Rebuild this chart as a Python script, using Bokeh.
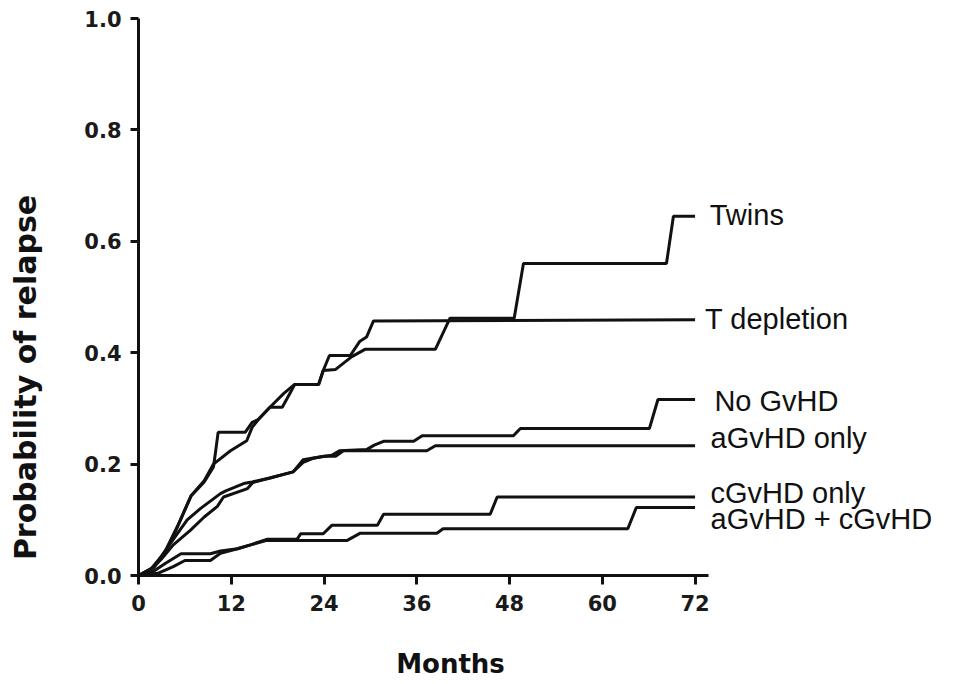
import math
from bokeh.plotting import figure
from bokeh.models import Range1d, FixedTicker, PrintfTickFormatter
from bokeh.core.properties import value
from bokeh.embed import file_html
from bokeh.resources import INLINE

# ---- data (months, cumulative probability of relapse) ----
twins_m = [0, 2, 3.5, 5, 6.8, 8.5, 9.7, 11.9, 14.0, 14.7, 15.5, 17.0, 18.6, 19.7, 20.2, 23.3, 23.9, 25.5, 27.6, 29.3, 38.4, 40.3, 48.6, 49.8, 68.3, 69.2, 72]
twins_p = [0, 0.015, 0.045, 0.087, 0.143, 0.17, 0.2, 0.224, 0.242, 0.266, 0.28, 0.302, 0.302, 0.33, 0.343, 0.343, 0.368, 0.37, 0.393, 0.406, 0.406, 0.462, 0.462, 0.56, 0.56, 0.645, 0.645]

tdep_m = [0, 2, 3.5, 5, 6.8, 8.5, 9.7, 10.0, 10.3, 13.8, 14.7, 15.5, 17.0, 18.8, 20.2, 23.3, 23.9, 24.7, 27.4, 28.6, 29.5, 30.4, 72]
tdep_p = [0, 0.015, 0.043, 0.086, 0.143, 0.168, 0.195, 0.225, 0.257, 0.257, 0.275, 0.28, 0.302, 0.327, 0.343, 0.343, 0.368, 0.395, 0.395, 0.42, 0.428, 0.457, 0.459]

nogvhd_m = [0, 1.5, 3, 4.5, 6.3, 8.0, 10.6, 11.3, 13.6, 14.7, 17, 20, 21.3, 23, 25, 26, 29.5, 30.5, 31.7, 35.6, 36.7, 48.5, 49.4, 66.1, 67.2, 72]
nogvhd_p = [0, 0.01, 0.035, 0.065, 0.1, 0.12, 0.147, 0.152, 0.165, 0.168, 0.175, 0.186, 0.208, 0.212, 0.216, 0.224, 0.226, 0.234, 0.241, 0.241, 0.251, 0.251, 0.264, 0.264, 0.316, 0.316]

agvhd_m = [0, 1.5, 3, 4.5, 6.7, 8.5, 10.2, 11.0, 14.1, 14.8, 17, 20, 21.3, 22.5, 24, 25.5, 26.5, 37.3, 38.4, 72]
agvhd_p = [0, 0.008, 0.03, 0.055, 0.081, 0.105, 0.124, 0.141, 0.156, 0.167, 0.175, 0.186, 0.203, 0.21, 0.214, 0.214, 0.224, 0.224, 0.233, 0.233]

cgvhd_m = [0, 2, 3.5, 5.5, 9.3, 10.6, 12.8, 14.5, 16.6, 20.5, 21, 23.9, 25, 30.9, 31.7, 45.5, 46.4, 72]
cgvhd_p = [0, 0.008, 0.022, 0.039, 0.039, 0.044, 0.048, 0.055, 0.065, 0.065, 0.075, 0.075, 0.09, 0.09, 0.11, 0.11, 0.141, 0.141]

acgvhd_m = [0, 2.5, 4.5, 6, 9.3, 10.6, 12.8, 14.5, 16.6, 27, 28.7, 38.6, 39.4, 63.3, 64.4, 72]
acgvhd_p = [0, 0.004, 0.016, 0.027, 0.027, 0.04, 0.048, 0.055, 0.063, 0.063, 0.076, 0.076, 0.084, 0.084, 0.122, 0.122]

series_names = ["Twins", "T depletion", "No GvHD", "aGvHD only", "cGvHD only", "aGvHD + cGvHD"]
series_data = [(twins_m, twins_p), (tdep_m, tdep_p), (nogvhd_m, nogvhd_p),
               (agvhd_m, agvhd_p), (cgvhd_m, cgvhd_p), (acgvhd_m, acgvhd_p)]

x_ticks = [0, 12, 24, 36, 48, 60, 72]
y_ticks = [0.0, 0.2, 0.4, 0.6, 0.8, 1.0]
x_title = "Months"
y_title = "Probability of relapse"

# label anchor positions (months, probability)
label_x = [73.9, 73.3, 74.5, 74.0, 74.0, 74.0]
label_y = [0.648, 0.461, 0.314, 0.246, 0.149, 0.102]

# ---- figure: frame covers the whole canvas, axes pinned at 0 ----
W, H = 965, 684
PX_X = 7.73          # pixels per month
PX_Y = 557.0         # pixels per unit probability
ORIGIN_X, ORIGIN_Y = 138, 575   # pixel position of (0, 0)

x_range = Range1d(-ORIGIN_X / PX_X, (W - ORIGIN_X) / PX_X)
y_range = Range1d(-(H - ORIGIN_Y) / PX_Y, ORIGIN_Y / PX_Y)

p = figure(width=W, height=H, output_backend="svg", toolbar_location=None,
           x_range=x_range, y_range=y_range,
           min_border=0, min_border_left=0, min_border_right=0,
           min_border_top=0, min_border_bottom=0)
p.outline_line_color = None
p.grid.visible = False
p.background_fill_color = "white"
p.border_fill_color = "white"

for m, pr in series_data:
    p.line(m, pr, line_color="#111111", line_width=3)

p.text(x=label_x, y=label_y, text=series_names, text_font=value("Liberation Sans"),
       text_font_size="29px", text_baseline="middle", text_align="left", text_color="#111111")

# axis titles
p.text(x=[(450 - ORIGIN_X) / PX_X], y=[(ORIGIN_Y - 663) / PX_Y], text=[x_title],
       text_font=value("DejaVu Sans"), text_font_style="bold", text_font_size="26px",
       text_align="center", text_baseline="middle", text_color="#111111")
p.text(x=[(25 - ORIGIN_X) / PX_X], y=[(ORIGIN_Y - 377) / PX_Y], text=[y_title],
       text_font=value("DejaVu Sans"), text_font_style="bold", text_font_size="30px",
       angle=math.pi / 2, text_align="center", text_baseline="middle", text_color="#111111")

for ax in (p.xaxis[0], p.yaxis[0]):
    ax.fixed_location = 0
    ax.axis_line_width = 3
    ax.axis_line_color = "#111111"
    ax.major_tick_line_width = 3
    ax.major_tick_line_color = "#111111"
    ax.major_tick_in = 0
    ax.minor_tick_out = 0
    ax.minor_tick_in = 0
    ax.major_label_text_font = "DejaVu Sans"
    ax.major_label_text_font_style = "bold"
    ax.major_label_text_font_size = "21px"
    ax.major_label_text_color = "#1a1a1a"

p.xaxis[0].ticker = FixedTicker(ticks=x_ticks)
p.xaxis[0].bounds = (-0.7, 73.8)
p.xaxis[0].major_tick_out = 9
p.xaxis[0].major_label_standoff = 10

p.yaxis[0].ticker = FixedTicker(ticks=y_ticks)
p.yaxis[0].formatter = PrintfTickFormatter(format="%.1f")
p.yaxis[0].bounds = (0, 1.0)
p.yaxis[0].major_tick_out = 8
p.yaxis[0].major_label_standoff = 9

open("out.html", "w").write(file_html(p, INLINE))
